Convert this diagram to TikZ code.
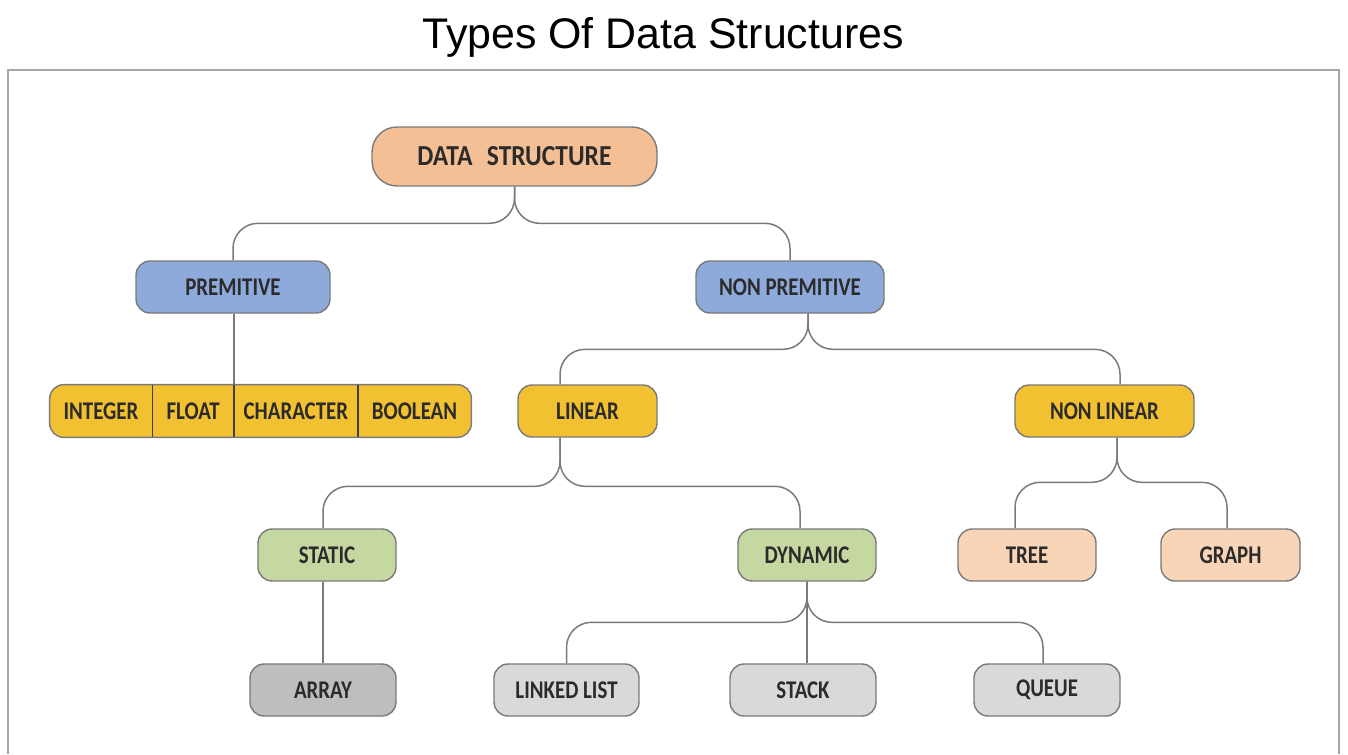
\documentclass[tikz,border=0pt]{standalone}
\usepackage{fontspec}
\setmainfont{Liberation Sans}
\newfontfamily\boxfont[FakeStretch=0.82]{Carlito}
\newfontfamily\rootfont[FakeStretch=0.88]{Carlito}
\usepackage{tikz}
\usetikzlibrary{positioning, backgrounds}

\definecolor{dsfill}{HTML}{F4BF95}   % root
\definecolor{bluefill}{HTML}{8EAADB} % second level
\definecolor{goldfill}{HTML}{F2C132} % third level
\definecolor{greenfill}{HTML}{C6D8A1}
\definecolor{peachfill}{HTML}{F8D5B6}
\definecolor{darkgrey}{HTML}{BEBEBE}
\definecolor{lightgrey}{HTML}{D9D9D9}
\definecolor{boxline}{HTML}{7A7A7A}
\definecolor{boxtext}{HTML}{2B2B2B}

\tikzset{
box/.style={draw=boxline, line width=0.8pt, rounded corners=0.28cm, minimum height=1.04cm, inner sep=0pt, text=boxtext, font=\boxfont\bfseries\fontsize{14.5}{17}\selectfont}, % every rounded box
cell/.style={minimum height=1.04cm, inner sep=0pt, text=boxtext, font=\boxfont\bfseries\fontsize{14.5}{17}\selectfont}, % one field of the primitive row
rowbox/.style={draw=boxline, fill=goldfill, line width=0.8pt, rounded corners=0.28cm},
divider/.style={draw=black!75, line width=0.9pt},
link/.style={draw=boxline, line width=0.85pt, rounded corners=0.5cm}, % the tree lines
frame/.style={draw=black!35, line width=0.6pt},
}

\begin{document}
\begin{tikzpicture}[x=0.02cm, y=-0.02cm]
\useasboundingbox (0,0) rectangle (1348,754);
\node[anchor=base, font=\fontsize{24.4}{28}\selectfont] (title) at (663,48) {Types Of Data Structures};
\draw[frame] (8,754) -- (8,70) -- (1339,70) -- (1339,754);

\node[box, fill=dsfill, minimum width=5.7cm, minimum height=1.18cm, rounded corners=0.5cm, font=\rootfont\bfseries\fontsize{16.5}{19}\selectfont] (ds) at (514.5,156.5) {DATA\enspace STRUCTURE};
\node[box, fill=bluefill, minimum width=3.88cm] (prem) at (233,287) {PREMITIVE};
\node[box, fill=bluefill, minimum width=3.76cm] (nprem) at (790,287) {NON PREMITIVE};

\node[cell, minimum width=2.04cm] (int) at (101,411) {INTEGER};
\node[cell, minimum width=1.62cm, right=0pt of int] (flt) {FLOAT};
\node[cell, minimum width=2.46cm, right=0pt of flt] (chr) {CHARACTER};
\node[cell, minimum width=2.26cm, right=0pt of chr] (bool) {BOOLEAN};
\node[box, fill=goldfill, minimum width=2.78cm] (lin) at (587.5,411) {LINEAR};
\node[box, fill=goldfill, minimum width=3.58cm] (nlin) at (1104.5,411) {NON LINEAR};

\node[box, fill=greenfill, minimum width=2.76cm] (stat) at (327,555) {STATIC};
\node[box, fill=greenfill, minimum width=2.76cm] (dyn) at (807,555) {DYNAMIC};
\node[box, fill=peachfill, minimum width=2.76cm] (tree) at (1027,555) {TREE};
\node[box, fill=peachfill, minimum width=2.78cm] (graph) at (1230.5,555) {GRAPH};

\node[box, fill=darkgrey, minimum width=2.92cm] (arr) at (323,690) {ARRAY};
\node[box, fill=lightgrey, minimum width=2.9cm] (llist) at (566.5,690) {LINKED LIST};
\node[box, fill=lightgrey, minimum width=2.92cm] (stack) at (803,690) {STACK};
\node[box, fill=lightgrey, minimum width=2.92cm] (queue) at (1047,690) {QUEUE};

% primitive row: frame behind, fields in front
\begin{scope}[on background layer]
\fill[white] (0,0) rectangle (1348,754);
\draw[rowbox] (int.north west) rectangle (bool.south east);
\end{scope}
\draw[divider] (flt.north west) -- (flt.south west);
\draw[divider] (chr.north west) -- (chr.south west);
\draw[divider] (bool.north west) -- (bool.south west);

% tree lines
\draw[link] (ds.south) |- ([yshift=0.74cm]prem.north) -- (prem.north);
\draw[link] (ds.south) |- ([yshift=0.74cm]nprem.north) -- (nprem.north);
\draw[link] (chr.north west |- prem.south) -- (chr.north west);
\draw[link] ([xshift=0.36cm]nprem.south) |- ([xshift=-0.55cm,yshift=0.7cm]lin.north) -- ([xshift=-0.55cm]lin.north);
\draw[link] ([xshift=0.36cm]nprem.south) |- ([xshift=0.31cm,yshift=0.7cm]nlin.north) -- ([xshift=0.31cm]nlin.north);
\draw[link] ([xshift=-0.55cm]lin.south) |- ([xshift=-0.08cm,yshift=0.84cm]stat.north) -- ([xshift=-0.08cm]stat.north);
\draw[link] ([xshift=-0.55cm]lin.south) |- ([xshift=-0.14cm,yshift=0.84cm]dyn.north) -- ([xshift=-0.14cm]dyn.north);
\draw[link] ([xshift=0.25cm]nlin.south) |- ([xshift=-0.24cm,yshift=0.92cm]tree.north) -- ([xshift=-0.24cm]tree.north);
\draw[link] ([xshift=0.25cm]nlin.south) |- ([xshift=-0.07cm,yshift=0.92cm]graph.north) -- ([xshift=-0.07cm]graph.north);
\draw[link] (arr.north |- stat.south) -- (arr.north);
\draw[link] (dyn.south) |- ([yshift=0.82cm]llist.north) -- (llist.north);
\draw[link] (dyn.south) -- (dyn.south |- stack.north);
\draw[link] (dyn.south) |- ([xshift=-0.08cm,yshift=0.82cm]queue.north) -- ([xshift=-0.08cm]queue.north);
\end{tikzpicture}
\end{document}
